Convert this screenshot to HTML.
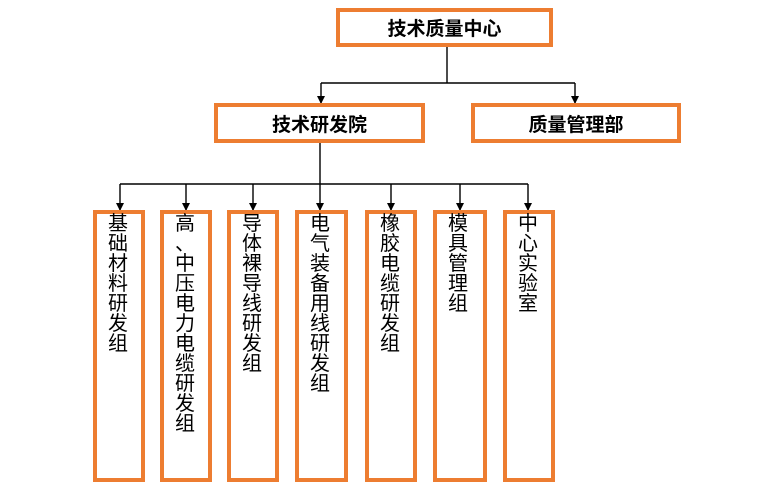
<!DOCTYPE html>
<html><head><meta charset="utf-8"><style>
body{margin:0;width:782px;height:494px;background:#fff;position:relative;font-family:"Liberation Sans","Noto Sans CJK SC",sans-serif;overflow:hidden}
.b{position:absolute;box-sizing:border-box;border:4px solid #ED7D31;background:#fff;color:#000}
.h{display:flex;align-items:center;justify-content:center;font-weight:bold;font-size:19px}
.v{font-size:20px;line-height:20px}
.v div{width:22px;margin:0 0 0 10px;word-break:break-all;line-break:anywhere;text-align:center}
svg{position:absolute;left:0;top:0}
</style></head><body>
<svg width="782" height="494">
<defs><marker id="a" markerWidth="8" markerHeight="8" refX="4" refY="7" orient="0" markerUnits="userSpaceOnUse"><path d="M0,0 L8,0 L4,8z" fill="#000"/></marker></defs>
<g stroke="#000" stroke-width="1.4" fill="none">
<line x1="447" y1="46" x2="447" y2="83"/>
<line x1="321" y1="83" x2="575" y2="83"/>
<line x1="321" y1="83" x2="321" y2="103" marker-end="url(#a)"/>
<line x1="575" y1="83" x2="575" y2="103" marker-end="url(#a)"/>
<line x1="320" y1="142" x2="320" y2="210" marker-end="url(#a)"/>
<line x1="120" y1="184" x2="528" y2="184"/>
<line x1="120" y1="184" x2="120" y2="210" marker-end="url(#a)"/>
<line x1="186" y1="184" x2="186" y2="210" marker-end="url(#a)"/>
<line x1="253" y1="184" x2="253" y2="210" marker-end="url(#a)"/>
<line x1="391" y1="184" x2="391" y2="210" marker-end="url(#a)"/>
<line x1="460" y1="184" x2="460" y2="210" marker-end="url(#a)"/>
<line x1="528" y1="184" x2="528" y2="210" marker-end="url(#a)"/>
</g></svg>
<div class="b h" style="left:336px;top:8px;width:217px;height:39px">技术质量中心</div>
<div class="b h" style="left:214px;top:103px;width:211px;height:40px">技术研发院</div>
<div class="b h" style="left:471px;top:103px;width:210px;height:40px">质量管理部</div>
<div class="b v" style="left:93px;top:210px;width:52px;height:272px"><div>基础材料研发组</div></div>
<div class="b v" style="left:160px;top:210px;width:52px;height:272px"><div>高<br>、<br>中压电力电缆研发组</div></div>
<div class="b v" style="left:227px;top:210px;width:52px;height:272px"><div>导体裸导线研发组</div></div>
<div class="b v" style="left:295px;top:210px;width:53px;height:272px"><div>电气装备用线研发组</div></div>
<div class="b v" style="left:365px;top:210px;width:52px;height:272px"><div>橡胶电缆研发组</div></div>
<div class="b v" style="left:433px;top:210px;width:54px;height:272px"><div>模具管理组</div></div>
<div class="b v" style="left:503px;top:210px;width:52px;height:272px"><div>中心实验室</div></div>
</body></html>
